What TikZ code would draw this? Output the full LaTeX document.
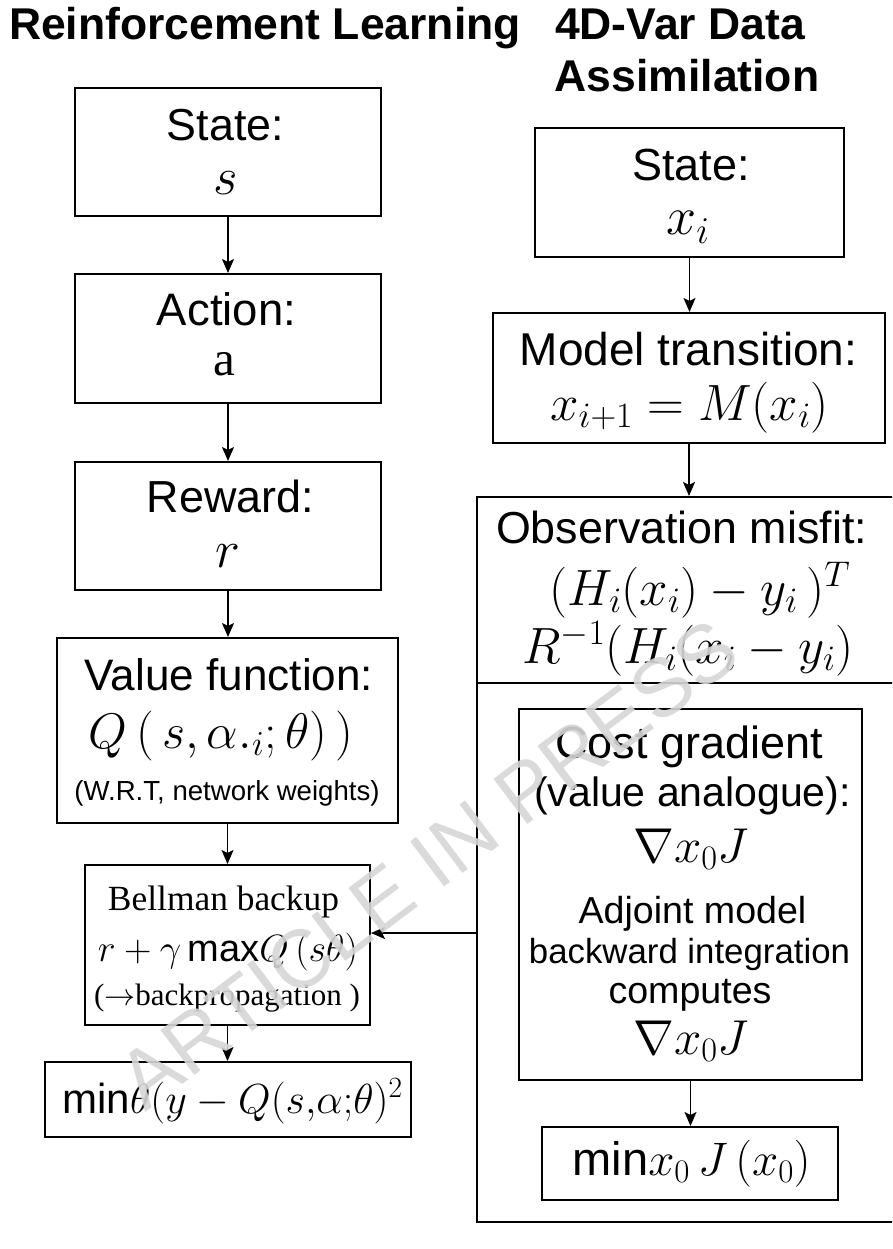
\RequirePackage{fix-cm}
\documentclass[tikz,border=0pt]{standalone}
\usepackage[no-math]{fontspec}
\setmainfont{Liberation Sans}
\newfontfamily\tnr{Liberation Serif}
\usetikzlibrary{arrows.meta}
\definecolor{wmgray}{RGB}{214,214,214}
\newcommand{\fsz}[1]{\fontsize{#1}{#1}\selectfont}
\tikzset{
  box/.style={draw, line width=2pt, inner sep=0pt, fill=none},
  arr/.style={line width=1.6pt, -{Stealth[length=14pt,width=12pt,inset=3pt]}},
  txt/.style={anchor=base, inner sep=0pt},
  ttl/.style={txt, font={\fsz{44.5}\bfseries}},
  lbl/.style={txt, font={\fsz{#1}}},
  lbl/.default=44.8,
}
\begin{document}
\begin{tikzpicture}[x=1pt,y=-1pt]
\useasboundingbox (0,0) rectangle (892,1249);
\fill[white] (0,0) rectangle (892,1249);

% titles
\node[ttl] (t1) at (265,40) {Reinforcement Learning};
\node[ttl] (t2) at (680,40) {4D-Var Data};
\node[ttl] (t3) at (687,92) {Assimilation};

% ---------- left column boxes
\node[box, minimum width=306pt, minimum height=128pt] (sS) at (228,152) {};
\node[box, minimum width=306pt, minimum height=129pt] (sA) at (228,338.5) {};
\node[box, minimum width=306pt, minimum height=128pt] (sR) at (228,526) {};
\node[box, minimum width=341pt, minimum height=185pt] (sV) at (227.5,730.5) {};
\node[box, minimum width=285pt, minimum height=160pt] (sB) at (227.5,945) {};
\node[box, minimum width=366pt, minimum height=75pt] (sM) at (228,1099.5) {};

% left texts
\node[lbl=44.8] (sSt) at (225.5,141) {State:};
\node[lbl=53] (sSv) at (226,195) {$s$};
\node[lbl=45.5] (sAt) at (226.5,325) {Action:};
\node[txt, font={\fsz{49}\tnr}] (sAv) at (224,375) {a};
\node[lbl=44.9] (sRt) at (230.5,512) {Reward:};
\node[lbl=53] (sRv) at (228,567) {$r$};
\node[lbl=44.1] (sVt) at (229,690) {Value function:};
\node[lbl=50] (sVv) at (221,748) {$Q\,(\,s,\alpha._{i};\theta)\,)$};
\node[lbl=27.6] (sVn) at (227,800) {(W.R.T, network weights)};
\node[txt, font={\fsz{35.4}\tnr}] (sBt) at (223.5,910) {Bellman backup};
\node[lbl=38] (sBv) at (228,961) {$r+\gamma\,\mbox{max}Q\,(s\theta)$};
\node[txt, font={\fsz{31}\tnr}] (sBn) at (227,1005) {($\rightarrow$backpropagation )};
\node[lbl=42] (sMv) at (232.5,1113) {\mbox{min}$\theta(y-Q(s{,}\alpha{;}\theta)^2$};

% ---------- right column
\node[box, minimum width=309pt, minimum height=129pt] (dS) at (689.5,192.5) {};
\node[box, minimum width=392pt, minimum height=130pt] (dM) at (689,378) {};
\begin{scope}
\clip (0,0) rectangle (892,1249);
\node[box, minimum width=428pt, minimum height=725pt] (outer) at (691,859.5) {};
\coordinate (div) at (0,683);
\draw[line width=2pt] (outer.west |- div) -- (outer.east |- div);
\end{scope}
\node[box, minimum width=343pt, minimum height=371pt] (dC) at (690.5,894.5) {};
\node[box, minimum width=296pt, minimum height=73pt] (dMin) at (690,1163.5) {};

% right texts
\node[lbl=45] (dSt) at (691,181) {State:};
\node[lbl=54] (dSv) at (688,235) {$x_i$};
\node[lbl=46] (dMt) at (688.5,365) {Model transition:};
\node[lbl=51] (dMv) at (689.5,420) {$x_{i+1}=M(x_i)$};
\node[lbl=44.8] (oT) at (681.5,543) {Observation misfit:};
\node[lbl=51] (oV1) at (700,605) {$(H_i(x_i)-y_i\,)^T$};
\node[lbl=51] (oV2) at (688,663) {$R^{-1}(H_i(x_i-y_i)$};
\node[lbl=45] (cT1) at (689,758) {Cost gradient};
\node[lbl=41] (cT2) at (692.5,806) {(value analogue):};
\node[lbl=49] (cV1) at (691,862) {$\nabla x_0J$};
\node[lbl=37.6] (cT3) at (692.5,923) {Adjoint model};
\node[lbl=34.8] (cT4) at (689.5,963) {backward integration};
\node[lbl=37.6] (cT5) at (690,1003) {computes};
\node[lbl=49] (cV2) at (691,1054) {$\nabla x_0J$};
\node[lbl=47] (mV) at (691.5,1175) {\mbox{min}$x_0\,J\,(x_0)$};

% ---------- connectors
\draw[arr] (sS.south) -- (sA.north);
\draw[arr] (sA.south) -- (sR.north);
\draw[arr] (sR.south) -- (sR.south |- sV.north);
\draw[arr] (sV.south) -- (sV.south |- sB.north);
\draw[arr] (sB.south) -- (sB.south |- sM.north);
\draw[arr] (dS.south) -- (dS.south |- dM.north);
\draw[arr] (dM.south) -- (dM.south |- outer.north);
\draw[arr] (dC.south) -- (dC.south |- dMin.north);
\coordinate (fb) at (0,933);
\draw[arr] (outer.west |- fb) -- (sB.east |- fb);

% watermark
\node[text=wmgray, opacity=0.9, rotate=37, inner sep=0pt, font={\fsz{82}}] (wm) at (428,864) {ARTICLE IN PRESS};
\end{tikzpicture}
\end{document}
